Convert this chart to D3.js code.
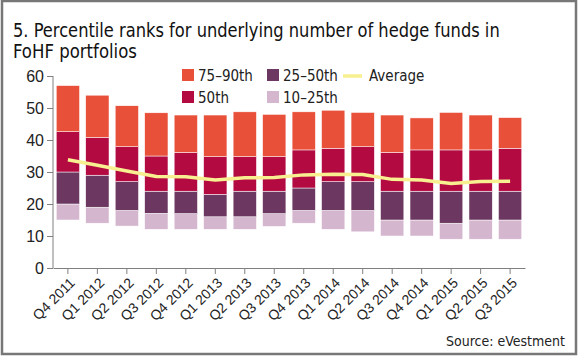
<!DOCTYPE html>
<html><head><meta charset="utf-8">
<script src="https://cdn.jsdelivr.net/npm/d3@7"></script>
<style>
body{margin:0;background:#fff;}
svg{display:block;font-family:"Liberation Sans Narrow","DejaVu Sans Condensed","Roboto Condensed",sans-serif;}
</style></head>
<body><svg id="c" width="580" height="358"></svg>
<script>
const categories = ["Q4 2011","Q1 2012","Q2 2012","Q3 2012","Q4 2012","Q1 2013","Q2 2013","Q3 2013","Q4 2013","Q1 2014","Q2 2014","Q3 2014","Q4 2014","Q1 2015","Q2 2015","Q3 2015"];
const p10 = [15,14,13.1,12.1,12.1,12.1,12.1,13,14,12.1,11.3,10,10,9,9,9];
const p25 = [20,19,18,17.1,17,16,16,17,18,18,18,15,15,14,15,15];
const p50 = [30,29,27,24,24,23,24,24,25,27,27,24,24,24,24,24];
const p75 = [42.6,40.8,37.9,35,36.1,34.8,34.8,34.8,36.9,37.4,37.9,36.1,36.9,36.9,36.9,37.4];
const p90 = [57,54,50.7,48.5,47.8,47.8,48.8,48,48.8,49.3,48.6,47.8,46.9,48.6,47.8,47];
const average = [33.8,32.1,30.3,28.6,28.5,27.5,28.2,28.3,29.1,29.3,29.2,27.7,27.5,26.4,27,27.1];
const yTicks = [0,10,20,30,40,50,60];
const colors = {"75–90th":"#e9503a","50th":"#b30a42","25–50th":"#6c3760","10–25th":"#d5b6cf","Average":"#f7ef90"};

const svg = d3.select("#c");
// frame
svg.append("rect").attr("x",2).attr("y",1).attr("width",574).attr("height",353)
  .attr("fill","#fff").attr("stroke","#777").attr("stroke-width",2.5);

// title (condensed by horizontal scaling to match reference width)
function fitText(str, x0, y0, size, width){
  const t = svg.append("text").attr("font-size",size).attr("fill","#111").text(str);
  const w = t.node().getComputedTextLength();
  t.attr("transform",`translate(${x0},${y0}) scale(${width/w},1)`);
  return t;
}
fitText("5. Percentile ranks for underlying number of hedge funds in", 13, 36.5, 20, 487);
fitText("FoHF portfolios", 13, 58, 20, 124);

const x = d3.scaleBand().domain(categories).range([53,525]).paddingInner(0.21).paddingOuter(0.11);
const y = d3.scaleLinear().domain([0,60]).range([268,76]);

// stacked segments
const segs = [];
categories.forEach((c,i)=>{
  segs.push({c, name:"10–25th", lo:p10[i], hi:p25[i]});
  segs.push({c, name:"25–50th", lo:p25[i], hi:p50[i]});
  segs.push({c, name:"50th", lo:p50[i], hi:p75[i]});
  segs.push({c, name:"75–90th", lo:p75[i], hi:p90[i]});
});
svg.append("g").selectAll("rect").data(segs).join("rect")
  .attr("x",d=>x(d.c)).attr("width",x.bandwidth())
  .attr("y",d=>y(d.hi)).attr("height",d=>y(d.lo)-y(d.hi))
  .attr("fill",d=>colors[d.name]).attr("stroke","#fff").attr("stroke-width",0.5);

// average line
const line = d3.line().x((d,i)=>x(categories[i])+x.bandwidth()/2).y(d=>y(d));
svg.append("path").datum(average).attr("d",line).attr("fill","none")
  .attr("stroke",colors["Average"]).attr("stroke-width",3.5).attr("stroke-linejoin","round");

// axes
const yAxis = d3.axisLeft(y).tickValues(yTicks).tickSize(6).tickPadding(3);
const gy = svg.append("g").attr("transform","translate(53,0)").call(yAxis);
gy.select(".domain").attr("stroke","#808080").attr("d","M0,76V268");
gy.selectAll(".tick line").attr("stroke","#808080");
gy.selectAll("text").attr("font-size",16).attr("fill","#222").attr("font-family","inherit");

const xAxis = d3.axisBottom(x).tickSize(6).tickSizeOuter(0);
const gx = svg.append("g").attr("transform","translate(0,268)").call(xAxis);
gx.select(".domain").attr("stroke","#808080");
gx.selectAll(".tick line").attr("stroke","#808080");
gx.selectAll("text").attr("font-size",14).attr("fill","#222").attr("font-family","inherit")
  .attr("text-anchor","end").attr("transform","rotate(-45)").attr("dx","-0.4em").attr("dy","0.55em");

// legend
const leg = [
  {name:"75–90th", x:182, y:69},
  {name:"25–50th", x:267, y:69},
  {name:"50th", x:182, y:91},
  {name:"10–25th", x:267, y:91}
];
const lg = svg.append("g");
leg.forEach(l=>{
  lg.append("rect").attr("x",l.x).attr("y",l.y).attr("width",12).attr("height",12).attr("fill",colors[l.name]);
  lg.append("text").attr("x",l.x+16).attr("y",l.y+11.5).attr("font-size",15).attr("fill","#222").text(l.name);
});
lg.append("line").attr("x1",343).attr("x2",362).attr("y1",76).attr("y2",76)
  .attr("stroke",colors["Average"]).attr("stroke-width",3.5);
lg.append("text").attr("x",369).attr("y",80.5).attr("font-size",15).attr("fill","#222").text("Average");

// source
svg.append("text").attr("x",565).attr("y",346).attr("text-anchor","end").attr("font-size",14)
  .attr("fill","#222").text("Source: eVestment");
</script></body></html>
